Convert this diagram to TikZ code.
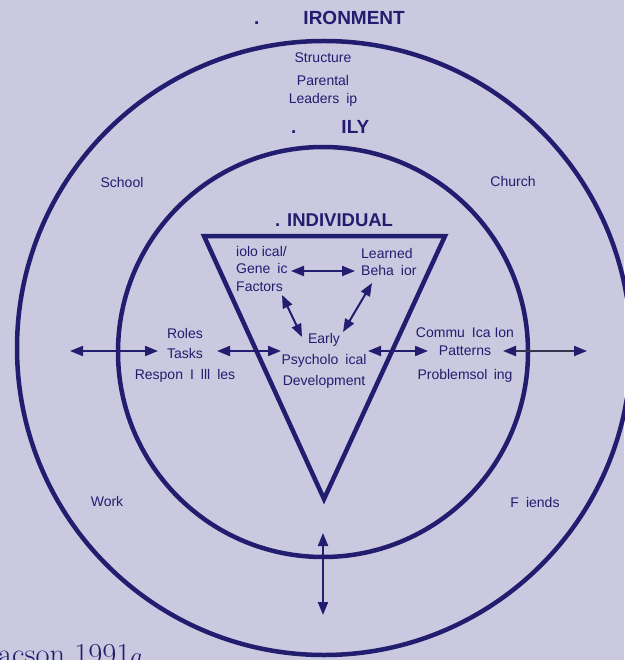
\documentclass[tikz,border=0pt]{standalone}
\usepackage{fontspec}
\setsansfont{Liberation Sans}
\usetikzlibrary{arrows.meta}
\definecolor{bg}{HTML}{CAC9E0}
\definecolor{navy}{HTML}{221D6E}
\definecolor{shaft}{HTML}{35344F}
\begin{document}
\begin{tikzpicture}[x=1pt,y=-1pt,
  lbl/.style={font=\sffamily\fontsize{14}{17}\selectfont, text=navy, inner sep=0pt, anchor=base},
  ttl/.style={font=\sffamily\bfseries\fontsize{19}{22}\selectfont, text=navy, inner sep=0pt, anchor=base west},
  ring/.style={draw=navy, line width=4.5pt},
  tri/.style={draw=navy, line width=4.5pt, line join=miter},
  arr/.style={draw=navy, line width=2pt, {Triangle[length=13pt,width=10pt]}-{Triangle[length=13pt,width=10pt]}},
  garr/.style={draw=shaft, line width=2pt, {Triangle[length=13pt,width=10pt,color=navy]}-{Triangle[length=13pt,width=10pt,color=navy]}}
]
\fill[bg] (0,0) rectangle (624,660);
\useasboundingbox (0,0) rectangle (624,660);

% circles and triangle
\draw[ring] (324,348) circle[radius=307];
\draw[ring] (323,352) circle[radius=205];
\draw[tri] (204,236) -- (445,236) -- (324,499) -- cycle;

% titles
\node[ttl] (env) at (254,25) {.\hspace{44pt}IRONMENT};
\node[ttl] (fam) at (291,134) {.\hspace{45pt}ILY};
\node[ttl, font=\sffamily\bfseries\fontsize{18.5}{22}\selectfont] (ind) at (275,226) {. INDIVIDUAL};

% environment labels (multi-line nodes: base = last line's baseline)
\node[lbl] (structure) at (323,63) {Structure};
\node[lbl, align=center, font=\sffamily\fontsize{14}{18}\selectfont] (parental) at (323,104) {Parental\\Leaders\enspace ip};
\node[lbl] (school) at (122,188) {School};
\node[lbl] (church) at (513,187) {Church};
\node[lbl] (work) at (107,506) {Work};
\node[lbl] (friends) at (535,507) {F\enspace iends};

% family labels
\node[lbl, align=center, font=\sffamily\fontsize{14}{20.5}\selectfont] (roles) at (185,379) {Roles\\Tasks\\Respon\enspace I\enspace lll\enspace les};
\node[lbl] (comm) at (465,337) {Commu\enspace Ica Ion};
\node[lbl] (patterns) at (465,355) {Patterns};
\node[lbl] (problem) at (465,379) {Problemsol\, ing};

% individual labels
\node[lbl, align=left, anchor=base west, font=\sffamily\fontsize{14}{17.5}\selectfont] (bio) at (236,291) {iolo ical/\\Gene\enspace ic\\Factors};
\node[lbl, align=left, anchor=base west, font=\sffamily\fontsize{14}{17}\selectfont] (learned) at (361,275) {Learned\\Beha\enspace ior};
\node[lbl, align=center, font=\sffamily\fontsize{14}{21}\selectfont] (early) at (324,385) {Early\\Psycholo\enspace ical\\Development};

% citation
\node[anchor=base west, inner sep=0pt, text=navy, font=\fontsize{30.5}{33}\selectfont] (cite) at (-2,664) {acson 1991$a$.};

% arrow ends
\coordinate (g1) at (291,271); \coordinate (g2) at (355,271);
\coordinate (f1) at (282,295); \coordinate (f2) at (302,337);
\coordinate (b1) at (372,283); \coordinate (b2) at (343,332);
\coordinate (l1) at (70,351);  \coordinate (l2) at (158,351);
\coordinate (t1) at (217,351); \coordinate (t2) at (281,351);
\coordinate (r1) at (368,351); \coordinate (r2) at (428,351);
\coordinate (o1) at (503,351); \coordinate (o2) at (587,351);
\coordinate (v1) at (323,533); \coordinate (v2) at (323,615);

\draw[arr] (g1) -- (g2);
\draw[arr] (f1) -- (f2);
\draw[arr] (b1) -- (b2);
\draw[arr] (l1) -- (l2);
\draw[arr] (t1) -- (t2);
\draw[arr] (r1) -- (r2);
\draw[garr] (o1) -- (o2);
\draw[arr] (v1) -- (v2);
\end{tikzpicture}
\end{document}
